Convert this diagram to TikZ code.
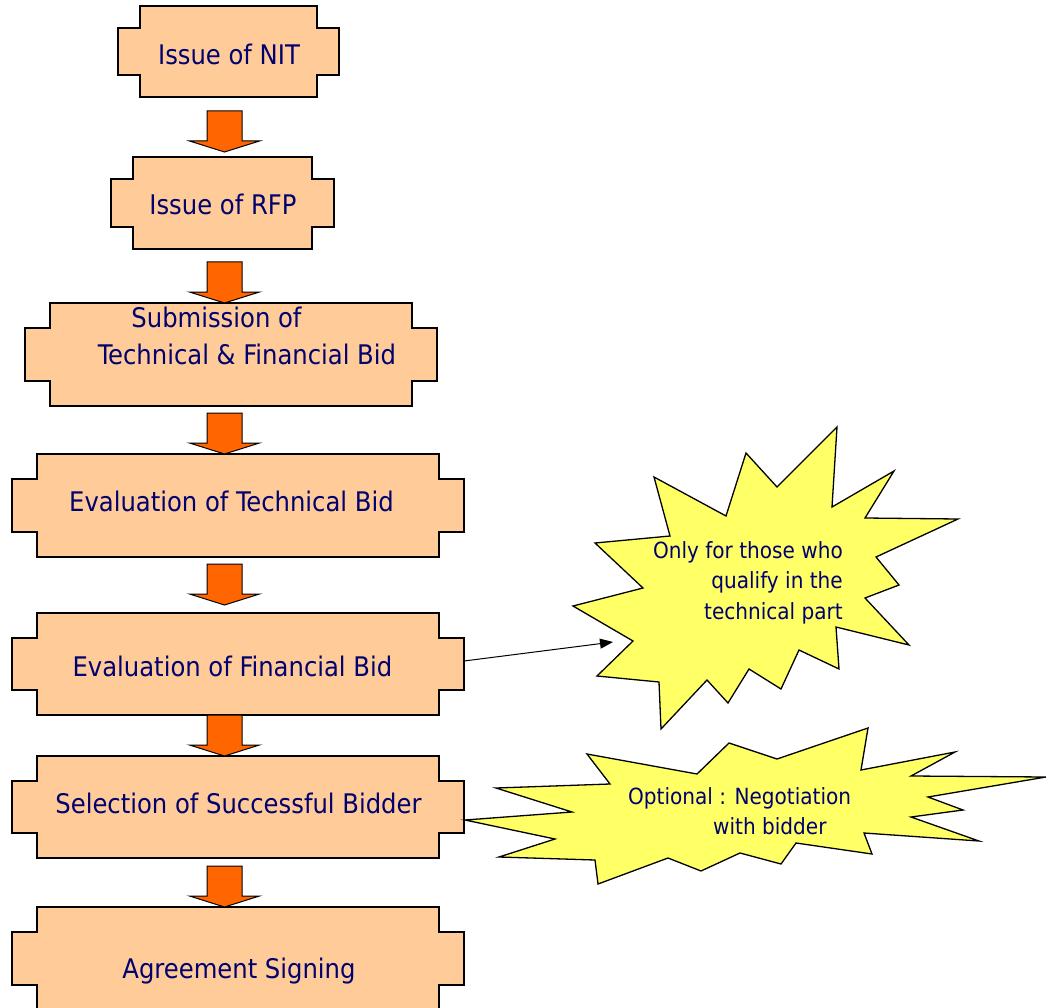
\documentclass[tikz,border=0pt]{standalone}
\usepackage{fontspec}
\setmainfont{DejaVu Sans Condensed}
\usetikzlibrary{arrows.meta}

\definecolor{peach}{HTML}{FFCC99}
\definecolor{blockorange}{HTML}{FF6600}
\definecolor{burstyellow}{HTML}{FFFF66}
\definecolor{navytext}{RGB}{0,0,110}

% Outline of a stage: a rectangle with square notches cut from its corners
\newcommand\plaqueoutline[2]{%
  \filldraw[plaque]
    ([xshift=#2]#1.north west) -- ([xshift=-#2]#1.north east)
    -- ([xshift=-#2,yshift=-#2]#1.north east) -- ([yshift=-#2]#1.north east)
    -- ([yshift=#2]#1.south east) -- ([xshift=-#2,yshift=#2]#1.south east)
    -- ([xshift=-#2]#1.south east) -- ([xshift=#2]#1.south west)
    -- ([xshift=#2,yshift=#2]#1.south west) -- ([yshift=#2]#1.south west)
    -- ([yshift=-#2]#1.north west) -- ([xshift=#2,yshift=-#2]#1.north west)
    -- cycle;}

\begin{document}
\begin{tikzpicture}[x=1pt,y=-1pt,
  plaque/.style={draw=black,fill=peach,line width=1.5pt,line join=miter},
  stagearea/.style={inner sep=0pt,outer sep=0pt},
  stagetext/.style={text=navytext,font=\fontsize{27}{32}\selectfont,inner sep=0pt,anchor=base},
  bursttext/.style={text=navytext,font=\fontsize{22.3}{27}\selectfont,inner sep=0pt},
  burst/.style={draw=black,fill=burstyellow,line width=1.3pt,line join=miter},
  arrowfill/.style={draw=black,fill=blockorange,line width=1pt,line join=miter},
  blockarrow/.pic={\filldraw[arrowfill] (0,0) -- (-35,-11) -- (-17.5,-11) -- (-17.5,-41)
                    -- (17.5,-41) -- (17.5,-11) -- (35,-11) -- cycle;},
  callout/.style={draw=black,line width=1pt,-{Triangle[length=13pt,width=10pt]}}]

\useasboundingbox[fill=white] (0,0) rectangle (1046,1008);

% stage areas
\node[stagearea,minimum width=221pt,minimum height=91pt]  (b1) at (228.5,51.5) {};
\node[stagearea,minimum width=223pt,minimum height=92pt]  (b2) at (222.5,203) {};
\node[stagearea,minimum width=412pt,minimum height=103pt] (b3) at (231,354.5) {};
\node[stagearea,minimum width=452pt,minimum height=103pt] (b4) at (238,505.5) {};
\node[stagearea,minimum width=452pt,minimum height=102pt] (b5) at (238,664) {};
\node[stagearea,minimum width=452pt,minimum height=102pt] (b6) at (238,807) {};
\node[stagearea,minimum width=452pt,minimum height=103pt] (b7) at (238,958.5) {};

\plaqueoutline{b1}{22pt}
\plaqueoutline{b2}{22pt}
\plaqueoutline{b3}{25pt}
\plaqueoutline{b4}{25pt}
\plaqueoutline{b5}{25pt}
\plaqueoutline{b6}{25pt}
\plaqueoutline{b7}{25pt}

% stage labels
\node[stagetext] (t1)  at (229,65)    {Issue of NIT};
\node[stagetext] (t2)  at (223,215)   {Issue of RFP};
\node[stagetext] (t3a) at (216.5,327) {Submission of};
\node[stagetext] (t3b) at (247,364)   {Technical \& Financial Bid};
\node[stagetext] (t4)  at (231.5,511) {Evaluation of Technical Bid};
\node[stagetext] (t5)  at (232.5,676) {Evaluation of Financial Bid};
\node[stagetext] (t6)  at (238.5,813) {Selection of Successful Bidder};
\node[stagetext] (t7)  at (239,978)   {Agreement Signing};

% block arrows between stages
\coordinate (spine) at (224.5,0);
\path (spine |- b2.north) ++(0,-5) pic {blockarrow};
\path (spine |- b3.north) pic {blockarrow};
\path (spine |- b4.north) pic {blockarrow};
\path (spine |- b5.north) ++(0,-8) pic {blockarrow};
\path (spine |- b6.north) pic {blockarrow};
\path (spine |- b7.north) pic {blockarrow};

% first starburst
\filldraw[burst] (837,427) -- (832,507) -- (894,471) -- (865,518) -- (958,519)
  -- (876,557) -- (899,585) -- (865,598) -- (909,645) -- (836,627) -- (839,669)
  -- (799,650) -- (781,689) -- (749,669) -- (728,703) -- (707,680) -- (661,729)
  -- (659,682) -- (597,676) -- (633,641) -- (573,606) -- (643,588) -- (595,543)
  -- (670,536) -- (654,477) -- (726,516) -- (746,453) -- (777,487) -- cycle;
\node[bursttext,anchor=base east] (s1a) at (843,558) {Only for those who};
\node[bursttext,anchor=base east] (s1b) at (843,588.5) {qualify in the};
\node[bursttext,anchor=base east] (s1c) at (843,619) {technical part};
\coordinate (s1in) at (613,642);
\draw[callout] ([yshift=3pt]b5.east) -- (s1in);

% second starburst, its left spike touching the selection stage
\filldraw[burst] (465,820) -- (572,812) -- (496,788) -- (610,784) -- (587,754)
  -- (697,774) -- (729,743) -- (777,759) -- (868,728) -- (861,770) -- (955,752)
  -- (911,776) -- (1046,777) -- (928,797) -- (963,810) -- (911,817) -- (979,841)
  -- (864,833) -- (872,854) -- (796,843) -- (781,864) -- (740,853) -- (701,871)
  -- (668,858) -- (598,884) -- (595,860) -- (499,857) -- (555,839) -- cycle;
\node[bursttext,anchor=base west] (s2a) at (628,804) {Optional : Negotiation};
\node[bursttext,anchor=base west] (s2b) at (713,834) {with bidder};

\end{tikzpicture}
\end{document}
